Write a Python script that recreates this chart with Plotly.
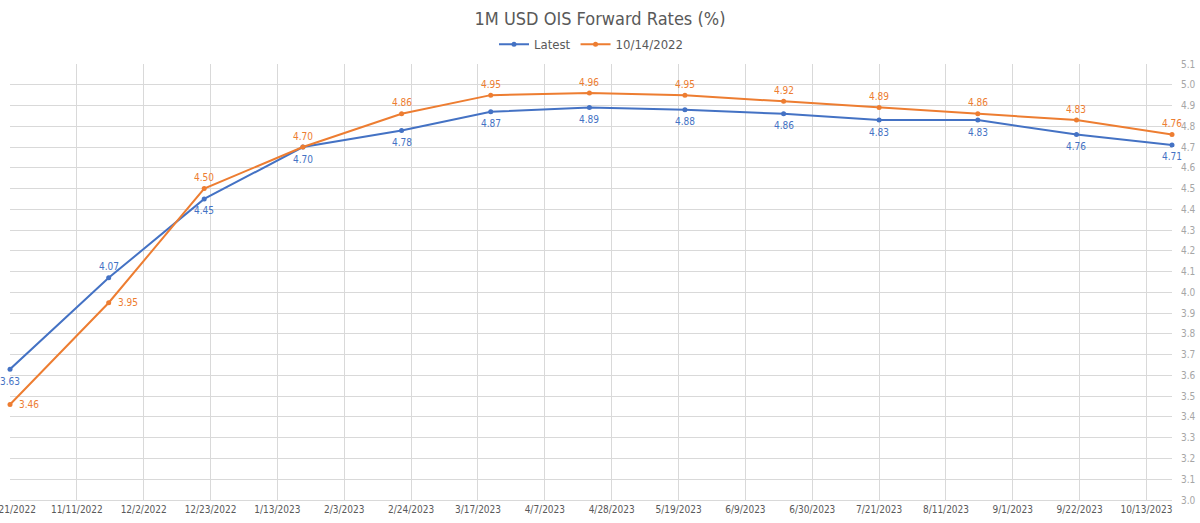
import plotly.graph_objects as go

dates = ["2022-10-21", "2022-11-21", "2022-12-21", "2023-01-21", "2023-02-21", "2023-03-21",
         "2023-04-21", "2023-05-21", "2023-06-21", "2023-07-21", "2023-08-21", "2023-09-21",
         "2023-10-21"]
latest = [3.63, 4.07, 4.45, 4.70, 4.78, 4.87, 4.89, 4.88, 4.86, 4.83, 4.83, 4.76, 4.71]
prior = [3.46, 3.95, 4.50, 4.70, 4.86, 4.95, 4.96, 4.95, 4.92, 4.89, 4.86, 4.83, 4.76]

tick_dates = ["2022-10-21", "2022-11-11", "2022-12-02", "2022-12-23", "2023-01-13", "2023-02-03",
              "2023-02-24", "2023-03-17", "2023-04-07", "2023-04-28", "2023-05-19", "2023-06-09",
              "2023-06-30", "2023-07-21", "2023-08-11", "2023-09-01", "2023-09-22", "2023-10-13"]
tick_labels = ["10/21/2022", "11/11/2022", "12/2/2022", "12/23/2022", "1/13/2023", "2/3/2023",
               "2/24/2023", "3/17/2023", "4/7/2023", "4/28/2023", "5/19/2023", "6/9/2023",
               "6/30/2023", "7/21/2023", "8/11/2023", "9/1/2023", "9/22/2023", "10/13/2023"]

BLUE = "#4472C4"
ORANGE = "#ED7D31"
FONT = "Liberation Sans Narrow, DejaVu Sans Condensed, Roboto, sans-serif"

# label placement: 'b' below, 't' above, 'r' right
latest_pos = ["b", "t"] + ["b"] * 11
prior_pos = ["r", "r"] + ["t"] * 11

fig = go.Figure()
fig.add_trace(go.Scatter(
    x=dates, y=latest, name="Latest", mode="lines+markers",
    line=dict(color=BLUE, width=2), marker=dict(size=5, color=BLUE), cliponaxis=False,
))
fig.add_trace(go.Scatter(
    x=dates, y=prior, name="10/14/2022", mode="lines+markers",
    line=dict(color=ORANGE, width=2), marker=dict(size=5, color=ORANGE), cliponaxis=False,
))


def add_labels(xs, ys, poss, color):
    for x, y, p in zip(xs, ys, poss):
        kw = dict(x=x, y=y, text=f"{y:.2f}", showarrow=False,
                  font=dict(size=10, color=color, family=FONT))
        if p == "b":
            kw.update(yshift=-12, xanchor="center", yanchor="middle")
        elif p == "t":
            kw.update(yshift=11, xanchor="center", yanchor="middle")
        else:
            kw.update(xshift=7, xanchor="left", yanchor="middle")
        fig.add_annotation(**kw)


add_labels(dates, latest, latest_pos, BLUE)
add_labels(dates, prior, prior_pos, ORANGE)

fig.update_layout(
    width=1200, height=523,
    margin=dict(l=10, r=28, t=64, b=23, autoexpand=False),
    paper_bgcolor="white", plot_bgcolor="white",
    font=dict(family=FONT, color="#595959"),
    title=dict(text="1M USD OIS Forward Rates (%)", x=0.5, xanchor="center",
               y=0.965, yanchor="middle", font=dict(size=18, color="#595959", family=FONT)),
    legend=dict(orientation="h", x=0.5, xref="paper", xanchor="center",
                y=1.045, yanchor="middle", font=dict(size=13, color="#595959", family=FONT),
                itemwidth=30),
    showlegend=True,
)
fig.update_xaxes(
    type="date", range=["2022-10-21", "2023-10-21"],
    tickmode="array", tickvals=tick_dates, ticktext=tick_labels, tickangle=0,
    ticklabeloverflow="allow", automargin=False,
    showgrid=True, gridcolor="#d9d9d9", gridwidth=1,
    showline=True, linecolor="#d9d9d9", zeroline=False,
    tickfont=dict(size=10, color="#595959", family=FONT),
)
fig.update_yaxes(
    side="right", range=[3.0, 5.1], dtick=0.1, tick0=3.0, tickformat=".1f",
    automargin=False,
    showgrid=True, gridcolor="#d9d9d9", gridwidth=1, zeroline=False,
    ticks="outside", ticklen=6, tickcolor="white",
    tickfont=dict(size=10, color="#a6a6a6", family=FONT),
)

fig.write_html("out.html")
